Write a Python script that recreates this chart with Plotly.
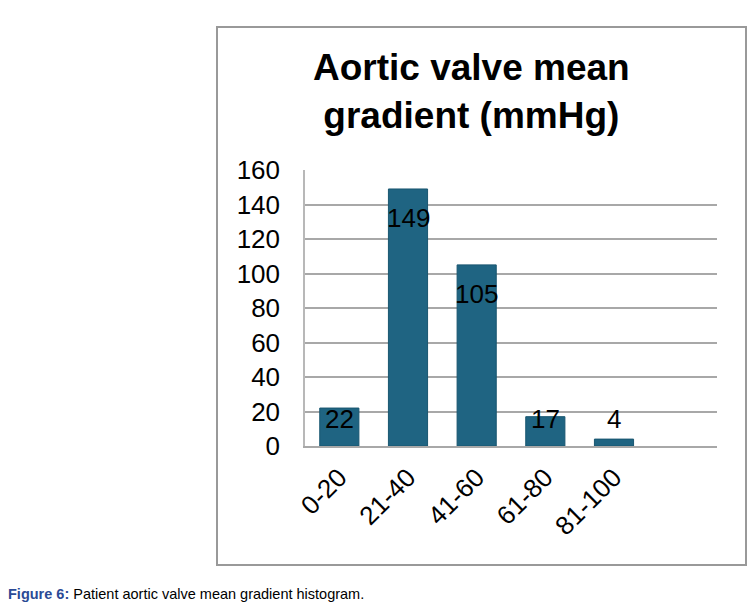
import plotly.graph_objects as go

categories = ["0-20", "21-40", "41-60", "61-80", "81-100"]
counts = [22, 149, 105, 17, 4]
y_ticks = [0, 20, 40, 60, 80, 100, 120, 140, 160]
title_lines = ["Aortic valve mean", "gradient (mmHg)"]
caption_bold = "Figure 6:"
caption_text = " Patient aortic valve mean gradient histogram."

FONT = "Arial, Liberation Sans, sans-serif"
BAR = "#1f6482"
GRID = "#a8a8a8"

W, H = 752, 613
L, R, T, B = 305, 717, 170, 446
pw, ph = R - L, B - T

def px(x):
    return (x - L) / pw

def py(y):
    return (B - y) / ph

fig = go.Figure()
fig.add_trace(go.Bar(
    x=list(range(len(categories))), y=counts,
    marker=dict(color=BAR, line=dict(color="#195670", width=1)),
    width=0.57, hoverinfo="skip",
))

# data labels: near top inside bar, with a floor for short bars
for i, v in enumerate(counts):
    fig.add_annotation(x=i, y=max(v - 16.6, 15.8), xref="x", yref="y",
                       text=str(v), showarrow=False, yanchor="middle",
                       font=dict(family=FONT, size=26, color="#000"))

fig.update_xaxes(
    range=[-0.5, 5.5], tickmode="array", tickvals=list(range(len(categories))),
    ticktext=categories, tickangle=-45, showgrid=False,
    showline=True, linecolor=GRID, linewidth=2, ticks="",
    ticklabelstandoff=4,
    tickfont=dict(family=FONT, size=26, color="#000"), zeroline=False,
)
fig.update_yaxes(
    range=[0, 160], tickmode="array", tickvals=y_ticks,
    showgrid=True, gridcolor=GRID, gridwidth=2,
    showline=True, linecolor="#b8b8b8", linewidth=1.5, ticks="",
    ticklabelstandoff=18,
    tickfont=dict(family=FONT, size=26, color="#000"), zeroline=False,
)

# outer frame
fig.add_shape(type="rect", xref="paper", yref="paper",
              x0=px(217), x1=px(746), y0=py(565), y1=py(27),
              line=dict(color="#999999", width=2), layer="below")

# title
fig.add_annotation(xref="paper", yref="paper", x=px(471), y=py(45),
                   xanchor="center", yanchor="top", showarrow=False,
                   text="<b>" + "<br>".join(title_lines) + "</b>",
                   font=dict(family=FONT, size=37, color="#000"))

# caption
fig.add_annotation(xref="paper", yref="paper", x=px(6), y=py(594),
                   xanchor="left", yanchor="middle", showarrow=False,
                   text="<b><span style='color:#2b4a96'>" + caption_bold + "</span></b>" + caption_text,
                   font=dict(family=FONT, size=14.5, color="#000"))

fig.update_layout(
    width=W, height=H,
    margin=dict(l=L, r=W - R, t=T, b=H - B, pad=0),
    paper_bgcolor="white", plot_bgcolor="white",
    showlegend=False, bargap=0.43,
)

fig.write_html("out.html")
